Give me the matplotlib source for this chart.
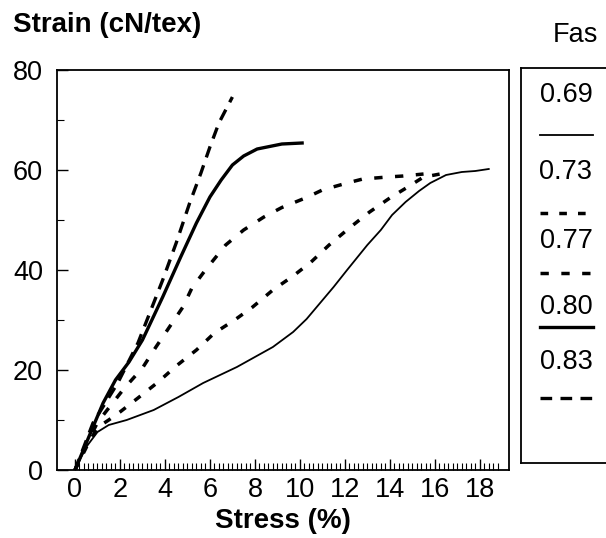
import matplotlib
matplotlib.use("Agg")
import matplotlib.pyplot as plt
from matplotlib.ticker import FixedLocator, MultipleLocator

plt.rcParams['font.family'] = ['Liberation Sans', 'DejaVu Sans']

# ---- data ----
labels = ["0.69", "0.73", "0.77", "0.80", "0.83"]

x69 = [0, 0.5, 1.0, 1.5, 2.3, 3.5, 4.6, 5.7, 7.2, 8.8, 9.7, 10.3, 10.9, 11.5, 12.1, 13.0,
       13.6, 14.1, 14.7, 15.3, 15.8, 16.5, 17.2, 17.8, 18.4]
y69 = [0, 4.6, 7.6, 9.0, 10.0, 12.0, 14.6, 17.4, 20.6, 24.6, 27.6, 30.2, 33.4, 36.6, 40.0, 45.0,
       48.0, 51.0, 53.6, 55.8, 57.4, 59.0, 59.6, 59.8, 60.2]

x73 = [0, 0.5, 1.0, 1.5, 2.0, 2.8, 3.7, 4.5, 5.4, 6.2, 7.1, 7.9, 8.8, 9.7, 10.5, 11.3,
       12.2, 13.1, 14.0, 14.8, 15.5, 16.0, 16.7]
y73 = [0, 4.5, 8.5, 10.0, 11.6, 14.4, 17.6, 20.8, 24.0, 27.4, 30.0, 32.6, 36.0, 38.8, 41.6, 45.0,
       48.4, 51.6, 54.4, 56.6, 58.6, 59.0, 59.6]

x77 = [0, 0.5, 1.0, 1.5, 2.2, 3.0, 3.6, 4.2, 4.8, 5.2, 5.8, 6.7, 7.5, 8.4, 9.2, 10.3,
       11.0, 12.1, 12.8, 13.9, 14.6, 15.5]
y77 = [0, 5.0, 9.5, 12.4, 16.4, 20.4, 24.6, 28.6, 32.6, 36.4, 40.0, 45.0, 48.0, 50.6, 52.5, 54.5,
       56.0, 57.4, 58.2, 58.6, 58.8, 59.2]

x80 = [0, 0.4, 0.8, 1.25, 1.8, 2.4, 3.0, 3.9, 4.7, 5.4, 6.0, 6.5, 7.0, 7.5, 8.1, 9.2, 10.1]
y80 = [0, 4.3, 8.6, 13.4, 18.0, 21.6, 26.0, 34.6, 42.6, 49.4, 54.6, 58.0, 61.0, 62.8, 64.2, 65.2, 65.4]

x83 = [0, 0.8, 1.9, 2.8, 3.9, 4.5, 5.1, 5.6, 6.0, 6.4, 7.0]
y83 = [0, 9.4, 17.4, 25.4, 38.0, 45.4, 53.4, 59.4, 64.6, 69.4, 74.6]

xticks = [0, 2, 4, 6, 8, 10, 12, 14, 16, 18]
yticks = [0, 20, 40, 60, 80]

series = [(x69, y69), (x73, y73), (x77, y77), (x80, y80), (x83, y83)]
styles = [
    dict(linestyle='-', linewidth=1.3),
    dict(linestyle=(0, (2.2, 3.2)), linewidth=2.5),
    dict(linestyle=(0, (2.4, 3.6)), linewidth=2.5),
    dict(linestyle='-', linewidth=2.4),
    dict(linestyle=(0, (3.5, 2.5)), linewidth=2.4),
]

W, H = 606, 538
fig = plt.figure(figsize=(W / 100, H / 100), dpi=100)

ax = fig.add_axes([57 / W, 1 - 470 / H, 452 / W, 400 / H])
for (xs, ys), st, lab in zip(series, styles, labels):
    ax.plot(xs, ys, color='black', label=lab, **st)

ax.set_xlim(-0.8, 19.3)
ax.set_ylim(0, 80)
ax.set_xticks(xticks)
ax.set_yticks(yticks)
ax.xaxis.set_minor_locator(FixedLocator([i * 0.2 for i in range(0, 95)]))
ax.yaxis.set_minor_locator(MultipleLocator(10))
ax.tick_params(axis='both', which='major', direction='in', length=8, width=1.0,
               labelsize=19.5, colors='black')
ax.tick_params(axis='both', which='minor', direction='in', length=5, width=0.8)
ax.tick_params(axis='x', which='major', pad=5)
ax.tick_params(axis='y', which='major', pad=10)
for sp in ax.spines.values():
    sp.set_linewidth(1.3)

ax.set_xlabel("Stress (%)", fontsize=20, fontweight='bold', labelpad=4)
fig.text(13 / W, 1 - 25 / H, "Strain (cN/tex)", fontsize=20, fontweight='bold',
         ha='left', va='center')
fig.text(575 / W, 1 - 35 / H, "Fas", fontsize=19.5, ha='center', va='center')

# ---- legend box ----
lax = fig.add_axes([521 / W, 1 - 463 / H, 100 / W, 395 / H])
lax.set_xlim(521, 621)
lax.set_ylim(463, 68)
lax.set_xticks([])
lax.set_yticks([])
for sp in lax.spines.values():
    sp.set_linewidth(1.3)
text_y = [95, 172, 241, 307, 362]
line_y = [135, 213, 273, 327, 398]
for lab, st, ty, ly in zip(labels, styles, text_y, line_y):
    lax.text(566, ty, lab, fontsize=19.5, ha='center', va='center')
    lax.plot([540, 593], [ly, ly], color='black', **st)

fig.savefig("out.png", dpi=100)
